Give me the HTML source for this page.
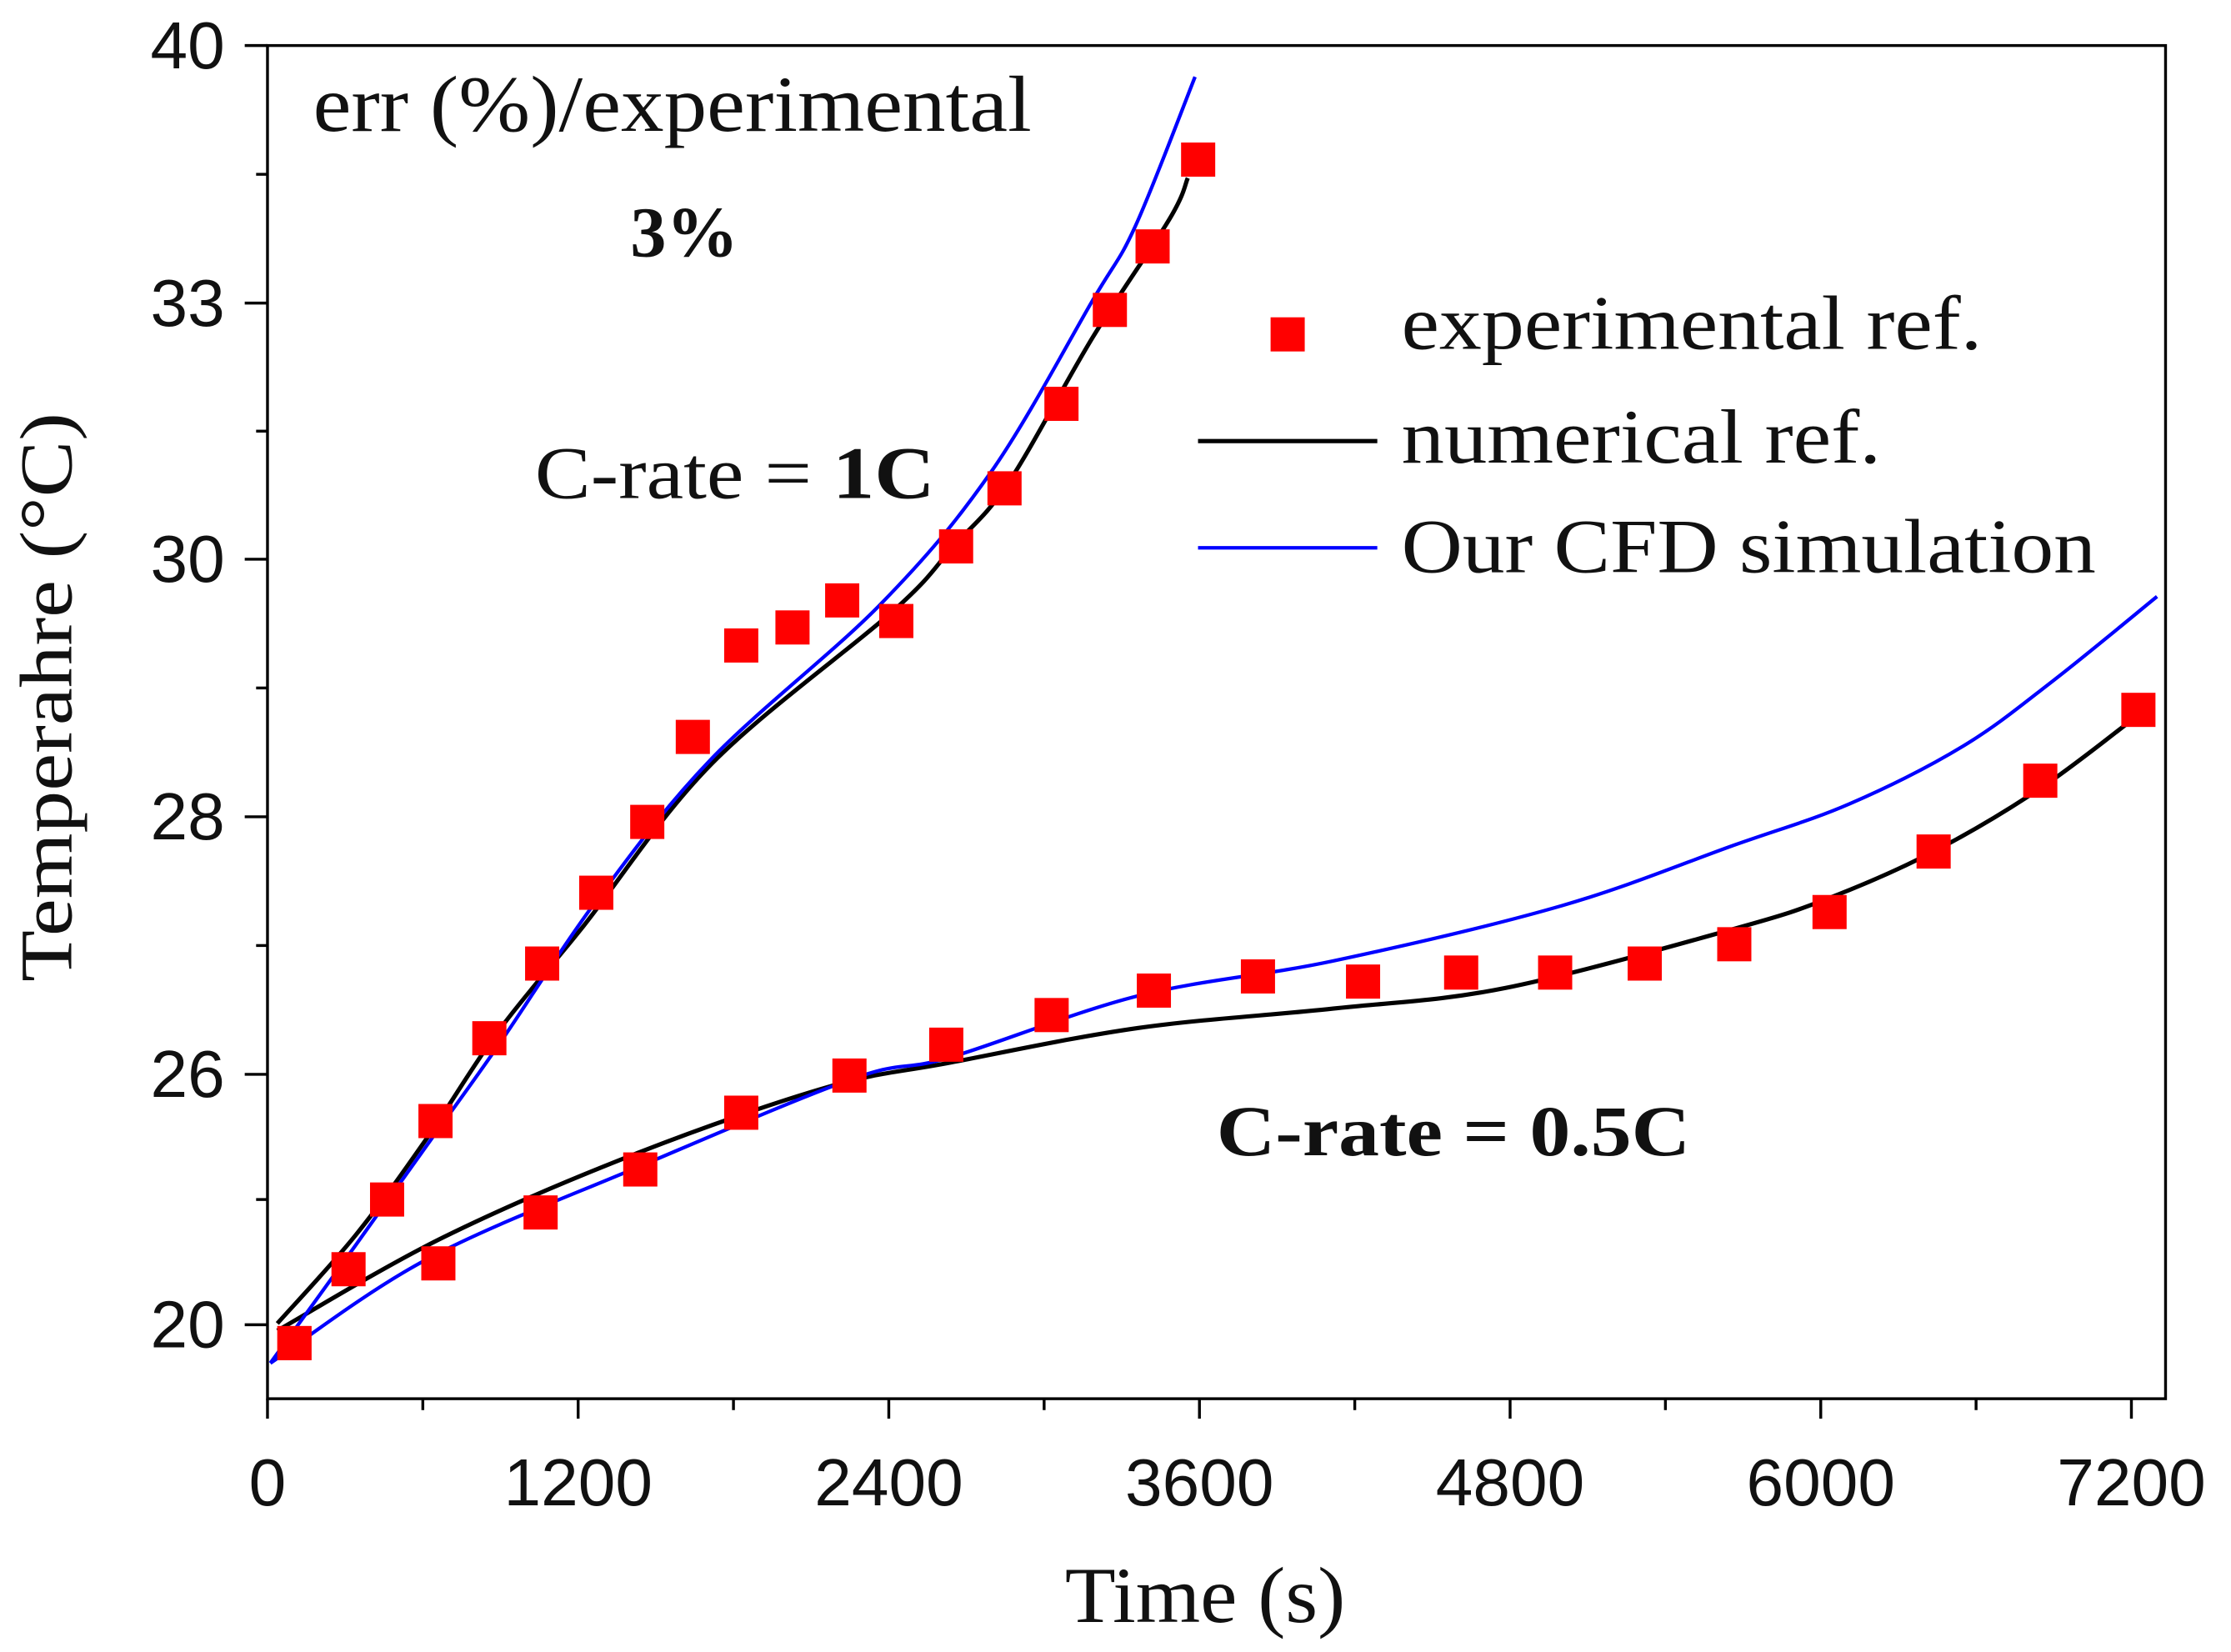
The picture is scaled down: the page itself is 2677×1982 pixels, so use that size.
<!DOCTYPE html>
<html><head><meta charset="utf-8"><style>
html,body{margin:0;padding:0;background:#fff;}
svg{display:block;}
</style></head><body>
<svg id="chart" width="2677" height="1982" viewBox="0 0 1568 1161" preserveAspectRatio="none" xmlns="http://www.w3.org/2000/svg">
<rect x="0" y="0" width="1568" height="1161" fill="#fff"/>
<g id="grid"></g>
<g id="series"></g>
<g font-family="'Liberation Serif', serif" fill="#111">
<text x="220" y="92" font-size="56" textLength="505" lengthAdjust="spacingAndGlyphs">err (%)/experimental</text>
<text x="443" y="180" font-size="50" font-weight="bold" textLength="76" lengthAdjust="spacingAndGlyphs">3%</text>
<text x="376" y="350" font-size="52" textLength="281" lengthAdjust="spacingAndGlyphs">C-rate = <tspan font-weight="bold">1C</tspan></text>
<text x="855" y="812" font-size="50" font-weight="bold" textLength="333" lengthAdjust="spacingAndGlyphs">C-rate = 0.5C</text>
</g>
<g font-family="'Liberation Serif', serif" font-size="54" fill="#111">
<rect x="893" y="223" width="24" height="24" fill="#f00"/>
<text x="985" y="245" textLength="408" lengthAdjust="spacingAndGlyphs">experimental ref.</text>
<line x1="842" y1="310" x2="968" y2="310" stroke="#000" stroke-width="3"/>
<text x="985" y="325" textLength="337" lengthAdjust="spacingAndGlyphs">numerical ref.</text>
<line x1="842" y1="385" x2="968" y2="385" stroke="#00f" stroke-width="2.5"/>
<text x="985" y="402" textLength="488" lengthAdjust="spacingAndGlyphs">Our CFD simulation</text>
</g>
<text transform="translate(50,490) rotate(-90)" text-anchor="middle" font-family="'Liberation Serif', serif" font-size="52" fill="#111" textLength="400" lengthAdjust="spacingAndGlyphs">Temperahre (°C)</text>
<text x="847" y="1140" text-anchor="middle" font-family="'Liberation Serif', serif" font-size="56" fill="#111" textLength="197" lengthAdjust="spacingAndGlyphs">Time (s)</text>
</svg>
<script>
const xTicks = [0, 1200, 2400, 3600, 4800, 6000, 7200];
const yTicks = [20, 26, 28, 30, 33, 40];
const yTickLabels = ["20", "26", "28", "30", "33", "40"];
const exp1cT = [104, 313, 462, 649, 857, 1061, 1270, 1467, 1643, 1830, 2028, 2220, 2429, 2660, 2847, 3067, 3254, 3419, 3595];
const exp1cV = [19.56, 21.33, 23.0, 24.88, 26.28, 26.86, 27.41, 27.96, 28.62, 29.33, 29.47, 29.68, 29.52, 30.15, 30.83, 31.82, 32.92, 34.54, 36.9];
const exp05cT = [104, 660, 1055, 1440, 1830, 2248, 2622, 3029, 3424, 3826, 4232, 4611, 4974, 5320, 5666, 6034, 6436, 6848, 7227];
const exp05cV = [19.56, 21.47, 22.69, 23.72, 25.08, 25.97, 26.23, 26.46, 26.65, 26.76, 26.72, 26.79, 26.79, 26.86, 27.01, 27.26, 27.73, 28.28, 28.83];
const num1cT = [38, 341, 616, 890, 1220, 1715, 2418, 2649, 2863, 3188, 3484, 3555];
const num1cV = [20.03, 22.15, 24.47, 26.33, 27.15, 28.41, 29.60, 30.15, 30.9, 32.6, 35.28, 36.4];
const cfd1cT = [11, 341, 616, 890, 1275, 1715, 2368, 2797, 3188, 3353, 3583];
const cfd1cV = [19.08, 21.91, 24.30, 26.22, 27.36, 28.45, 29.65, 31.03, 33.08, 35.1, 39.15];
const num05cT = [38, 681, 1436, 2167, 2635, 3364, 4116, 4781, 5666, 6034, 6436, 6848, 7220];
const num05cV = [19.86, 22.1, 24.13, 25.7, 26.09, 26.36, 26.51, 26.67, 27.13, 27.37, 27.73, 28.22, 28.78];
const cfd05cT = [11, 616, 1436, 2264, 2635, 3364, 4116, 5001, 5666, 6111, 6551, 6900, 7299];
const cfd05cV = [19.08, 21.57, 23.79, 25.9, 26.13, 26.61, 26.88, 27.31, 27.78, 28.1, 28.55, 29.06, 29.71];

const NS = "http://www.w3.org/2000/svg";
const L = 188, R = 1522, T = 32, B = 983;
const yPix = [931, 755, 574, 393, 213, 32];
function xs(t) { return L + t * (1498 - 188) / 7200; }
function ys(v) {
  let i = 0;
  if (v <= yTicks[0]) i = 0;
  else if (v >= yTicks[yTicks.length - 1]) i = yTicks.length - 2;
  else { while (v > yTicks[i + 1]) i++; }
  const f = (v - yTicks[i]) / (yTicks[i + 1] - yTicks[i]);
  return yPix[i] + f * (yPix[i + 1] - yPix[i]);
}
function mk(tag, attrs, parent) {
  const e = document.createElementNS(NS, tag);
  for (const k in attrs) e.setAttribute(k, attrs[k]);
  parent.appendChild(e);
  return e;
}
const grid = document.getElementById('grid');
const series = document.getElementById('series');
const frame = mk('rect', { x: L, y: T, width: R - L, height: B - T, fill: 'none', stroke: '#000', 'stroke-width': 2 }, grid);


xTicks.forEach((t, i) => {
  const x = xs(t);
  const tk = mk('line', { x1: x, y1: B, x2: x, y2: B + 14, stroke: '#000', 'stroke-width': 2 }, grid);
  
  
  if (i < xTicks.length - 1) {
    const xm = xs((t + xTicks[i + 1]) / 2);
    const mt = mk('line', { x1: xm, y1: B, x2: xm, y2: B + 8, stroke: '#000', 'stroke-width': 2 }, grid);
    
    
  }
  const lb = mk('text', { x: x, y: 1058, 'text-anchor': 'middle', 'font-family': "'Liberation Sans', sans-serif", 'font-size': 47, fill: '#111' }, grid);
  lb.textContent = String(t);
  
  
});
yTicks.forEach((v, i) => {
  const y = ys(v);
  const tk = mk('line', { x1: L - 16, y1: y, x2: L, y2: y, stroke: '#000', 'stroke-width': 2 }, grid);
  
  
  if (i < yTicks.length - 1) {
    const ym = (ys(v) + ys(yTicks[i + 1])) / 2;
    const mt = mk('line', { x1: L - 8, y1: ym, x2: L, y2: ym, stroke: '#000', 'stroke-width': 2 }, grid);
    
    
  }
  const lb = mk('text', { x: 158, y: y + 16, 'text-anchor': 'end', 'font-family': "'Liberation Sans', sans-serif", 'font-size': 47, fill: '#111' }, grid);
  lb.textContent = yTickLabels[i];
  
  
});
function smooth(ts, vs) {
  const p = ts.map((t, i) => [xs(t), ys(vs[i])]);
  let d = 'M' + p[0][0] + ',' + p[0][1];
  for (let i = 0; i < p.length - 1; i++) {
    const p0 = p[Math.max(0, i - 1)], p1 = p[i], p2 = p[i + 1], p3 = p[Math.min(p.length - 1, i + 2)];
    const c1 = [p1[0] + (p2[0] - p0[0]) / 6, p1[1] + (p2[1] - p0[1]) / 6];
    const c2 = [p2[0] - (p3[0] - p1[0]) / 6, p2[1] - (p3[1] - p1[1]) / 6];
    d += 'C' + c1[0] + ',' + c1[1] + ' ' + c2[0] + ',' + c2[1] + ' ' + p2[0] + ',' + p2[1];
  }
  return d;
}
const lines = [
  [num1cT, num1cV, '#000', 3, 'numerical-line-1c'],
  [num05cT, num05cV, '#000', 3, 'numerical-line-05c'],
  [cfd1cT, cfd1cV, '#00f', 2.5, 'cfd-line-1c'],
  [cfd05cT, cfd05cV, '#00f', 2.5, 'cfd-line-05c']
];
lines.forEach(s => {
  const pth = mk('path', { d: smooth(s[0], s[1]), fill: 'none', stroke: s[2], 'stroke-width': s[3] }, series);
  
  
});
[[exp1cT, exp1cV, 'experimental-point-1c'], [exp05cT, exp05cV, 'experimental-point-05c']].forEach(s => {
  s[0].forEach((t, i) => {
    const r = mk('rect', { x: xs(t) - 12, y: ys(s[1][i]) - 12, width: 24, height: 24, fill: '#f00' }, series);
    
    
  });
});
</script>
</body></html>
